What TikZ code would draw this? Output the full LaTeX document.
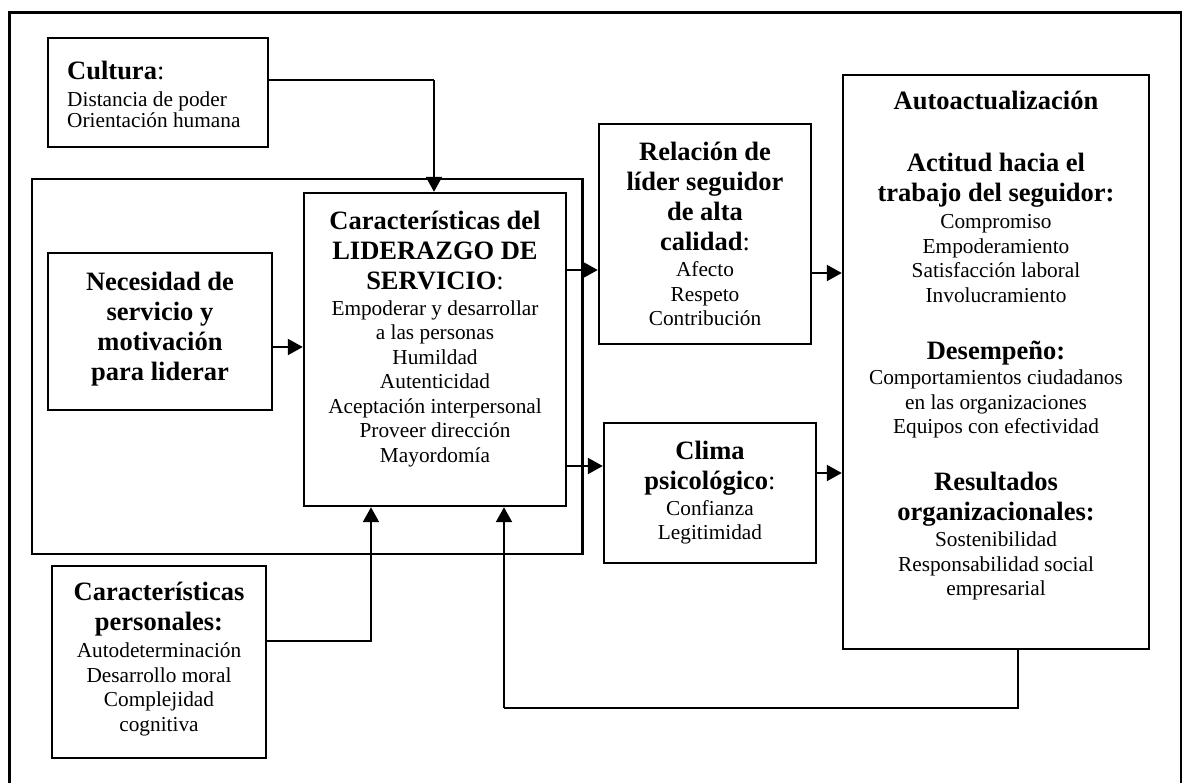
\documentclass[tikz,border=0pt]{standalone}
\usepackage{fontspec}
\setmainfont{Liberation Serif}
\usetikzlibrary{arrows.meta}
% type sizes: bold headings and regular item lists
\newcommand\hdfont{\fontsize{26.5}{30}\selectfont\bfseries}
\newcommand\rgfont{\fontsize{21.3}{24.5}\selectfont}
\newcommand\rgtight{\fontsize{21.3}{21.5}\selectfont}

\begin{document}
\begin{tikzpicture}[x=1pt,y=-1pt,
  box/.style={draw, line width=2.4pt, inner sep=0pt},
  frame/.style={draw, line width=2.8pt},
  hd/.style={font=\hdfont, align=center, anchor=north, inner sep=0pt},
  rg/.style={font=\rgfont, align=center, anchor=north, inner sep=0pt},
  arr/.style={line width=2.2pt, -{Triangle[length=15pt,width=16pt]}},
  link/.style={line width=1.5pt}]

\useasboundingbox (0,0) rectangle (1184,783);

% outer frame (runs past the lower edge of the page)
\draw[frame] (9.6,800) |- (1181,12.3) -- (1181,800);

% enclosing frame of the leadership core
\node[box, line width=2.8pt, minimum width=550.5pt, minimum height=375pt] (inner) at (307.25,366.5) {};

% boxes
\node[box, minimum width=220pt, minimum height=109pt] (cultura) at (158,92.5) {};
\node[box, minimum width=224pt, minimum height=157pt] (necesidad) at (160,331.5) {};
\node[box, minimum width=262pt, minimum height=313pt] (char) at (435,349.5) {};
\node[box, minimum width=212pt, minimum height=220pt] (relacion) at (705,234) {};
\node[box, minimum width=212pt, minimum height=140pt] (clima) at (710,493) {};
\node[box, minimum width=306pt, minimum height=574pt] (auto) at (996,362) {};
\node[box, minimum width=214pt, minimum height=192pt] (personales) at (159,662) {};

% texts
\node[hd, anchor=north west, align=left] (culturaT) at (67,58) {\strut Cultura{\mdseries:}};
\node[font=\rgtight, anchor=north west, align=left, inner sep=0pt] (culturaL) at (67,91) {\strut Distancia de poder\\Orientación humana};

\node[hd] (necesidadT) at (160,269.7) {\strut Necesidad de\\servicio y\\motivación\\para liderar};

\node[hd] (charT) at (435,208) {\strut Características del\\LIDERAZGO DE\\SERVICIO{\mdseries:}};
\node[rg] (charL) at (435,297.9) {\strut Empoderar y desarrollar\\a las personas\\Humildad\\Autenticidad\\Aceptación interpersonal\\Proveer dirección\\Mayordomía};

\node[hd] (relacionT) at (705,139.5) {\strut Relación de\\líder seguidor\\de alta\\calidad{\mdseries:}};
\node[rg] (relacionL) at (705,259.5) {\strut Afecto\\Respeto\\Contribución};

\node[hd] (climaT) at (710,438.3) {\strut Clima\\psicológico{\mdseries:}};
\node[rg] (climaL) at (710,497.9) {\strut Confianza\\Legitimidad};

\node[hd] (autoT) at (996,88.3) {\strut Autoactualización};
\node[hd] (actitudT) at (996,150.7) {\strut Actitud hacia el\\trabajo del seguidor:};
\node[rg] (actitudL) at (996,211.2) {\strut Compromiso\\Empoderamiento\\Satisfacción laboral\\Involucramiento};
\node[hd] (desempenoT) at (996,338.3) {\strut Desempeño:};
\node[rg] (desempenoL) at (996,367.2) {\strut Comportamientos ciudadanos\\en las organizaciones\\Equipos con efectividad};
\node[hd] (resultadosT) at (996,469) {\strut Resultados\\organizacionales:};
\node[rg] (resultadosL) at (996,529.5) {\strut Sostenibilidad\\Responsabilidad social\\empresarial};

\node[hd] (personalesT) at (159,579.7) {\strut Características\\personales:};
\node[rg] (personalesL) at (159,640.5) {\strut Autodeterminación\\Desarrollo moral\\Complejidad\\cognitiva};

% connectors
\coordinate (cbend) at (434,80);
\draw[link] (cultura.east |- cbend) -- (cbend);
\draw[arr] (cbend) -- (cbend |- char.north);

\draw[arr] (necesidad.east |- 0,347) -- (char.west |- 0,347);
\draw[arr] (char.east |- 0,270) -- (relacion.west |- 0,270);
\draw[arr] (char.east |- 0,466) -- (clima.west |- 0,466);
\draw[arr] (relacion.east |- 0,273) -- (auto.west |- 0,273);
\draw[arr] (clima.east |- 0,473) -- (auto.west |- 0,473);

\coordinate (pbend) at (371,641);
\draw[arr] (personales.east |- pbend) -- (pbend) -- (pbend |- char.south);

\coordinate (fbA) at (1018,708);
\coordinate (fbB) at (504,708);
\draw[link] (auto.south -| fbA) -- (fbA) -- (fbB);
\draw[arr] (fbB) -- (fbB |- char.south);
\end{tikzpicture}
\end{document}
